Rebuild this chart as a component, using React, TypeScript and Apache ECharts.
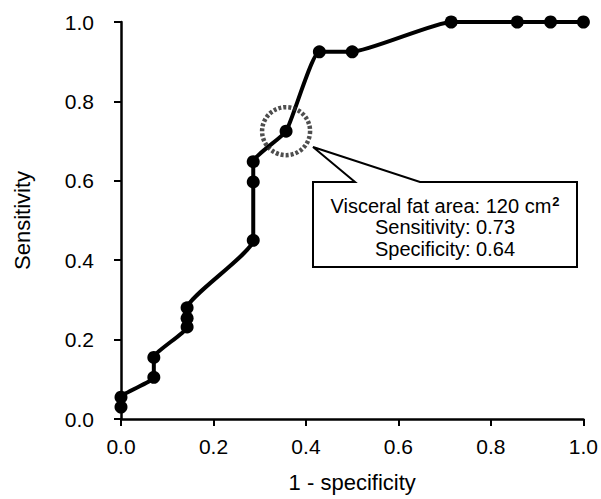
import React, { useEffect, useRef } from "react";
import * as echarts from "echarts";

// 1 - specificity (x) and sensitivity (y) for each cut-off
const fprValues = [0, 0, 0.071, 0.071, 0.143, 0.143, 0.143, 0.286, 0.286, 0.286, 0.357, 0.429, 0.5, 0.714, 0.857, 0.929, 1.0];
const sensValues = [0.03, 0.055, 0.105, 0.155, 0.232, 0.254, 0.28, 0.45, 0.597, 0.648, 0.725, 0.925, 0.925, 1.0, 1.0, 1.0, 1.0];
const highlightPoint = [0.357, 0.725];
const tickValues = [0, 0.2, 0.4, 0.6, 0.8, 1.0];
const xName = "1 - specificity";
const yName = "Sensitivity";
const calloutLines = ["Visceral fat area: 120 cm{sup|2}", "Sensitivity: 0.73", "Specificity: 0.64"];

const FONT = "'Liberation Sans', Arial, Helvetica, sans-serif";

export default function App() {
  const ref = useRef<HTMLDivElement>(null);
  useEffect(() => {
    if (!ref.current) return;
    const chart = echarts.init(ref.current, undefined, { renderer: "svg" });
    const data = fprValues.map((x, i) => [x, sensValues[i]]);
    const axisCommon = {
      type: "value" as const,
      min: tickValues[0],
      max: tickValues[tickValues.length - 1],
      interval: 0.2,
      nameLocation: "middle" as const,
      axisLine: { show: true, onZero: false, lineStyle: { color: "#000", width: 2.5 } },
      axisTick: { show: true, inside: false, length: 7, lineStyle: { color: "#000", width: 2 } },
      splitLine: { show: false },
      axisLabel: {
        color: "#000",
        fontFamily: FONT,
        fontSize: 21,
        formatter: (v: number) => v.toFixed(1),
      },
      nameTextStyle: { color: "#000", fontFamily: FONT, fontSize: 22 },
    };
    chart.setOption({
      animation: false,
      backgroundColor: "#fff",
      grid: { left: 121, right: 14, top: 22, bottom: 80, containLabel: false },
      xAxis: {
        ...axisCommon,
        name: xName,
        nameGap: 52,
        axisLabel: { ...axisCommon.axisLabel, margin: 17 },
      },
      yAxis: {
        ...axisCommon,
        name: yName,
        nameGap: 88,
        axisLabel: { ...axisCommon.axisLabel, margin: 27 },
      },
      series: [
        {
          type: "line",
          data,
          smooth: 0.15,
          symbol: "circle",
          symbolSize: 13,
          showAllSymbol: true,
          lineStyle: { color: "#000", width: 4 },
          itemStyle: { color: "#000" },
          z: 3,
        },
        {
          type: "scatter",
          data: [highlightPoint],
          symbol: "circle",
          symbolSize: 48,
          itemStyle: {
            color: "rgba(0,0,0,0)",
            borderColor: "#222",
            borderWidth: 4.5,
            borderType: [3, 2],
          },
          z: 4,
        },
      ],
      graphic: [
        {
          type: "polygon",
          shape: {
            points: [
              [313, 182],
              [355, 182],
              [313, 147],
              [420, 182],
              [577, 182],
              [577, 267],
              [313, 267],
            ],
          },
          style: { fill: "#fff", stroke: "#000", lineWidth: 2 },
          z: 10,
        },
        {
          type: "text",
          x: 445,
          y: 227,
          z: 11,
          style: {
            text: calloutLines.join("\n"),
            align: "center",
            verticalAlign: "middle",
            fill: "#000",
            font: `20px ${FONT}`,
            lineHeight: 21.5,
            rich: {
              sup: { fontSize: 13, verticalAlign: "top", lineHeight: 21.5, padding: [0, 0, 8, 1], fontFamily: FONT, fontWeight: "bold" },
            },
          },
        },
      ],
    });
    return () => chart.dispose();
  }, []);
  return (
    <div
      ref={ref}
      style={{ position: "fixed", left: 0, top: 0, width: 601, height: 499, background: "#fff" }}
    />
  );
}
